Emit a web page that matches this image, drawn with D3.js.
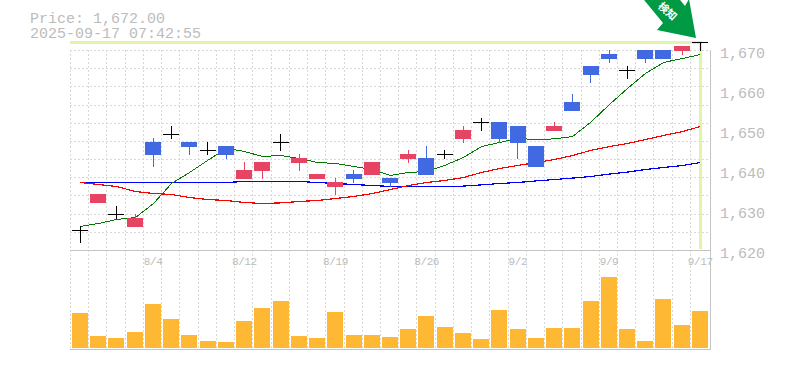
<!DOCTYPE html>
<html>
<head>
<meta charset="utf-8">
<script src="https://cdn.jsdelivr.net/npm/d3@7"></script>
<style>
    body { margin: 0; background: #fff; }
    svg { display: block; }
    text { font-family: "Liberation Mono", monospace; fill: #bcbcbc; }
    .axis path, .axis line { display: none; }
</style>
</head>
<body>
<div id="chart-area"></div>
<script>
/* Price chart with candles, moving averages and volume */

var dates = ["7/29", "7/30", "7/31", "8/1", "8/4", "8/5", "8/6", "8/7", "8/8", "8/12",
    "8/13", "8/14", "8/15", "8/18", "8/19", "8/20", "8/21", "8/22", "8/25", "8/26",
    "8/27", "8/28", "8/29", "9/1", "9/2", "9/3", "9/4", "9/5", "9/8", "9/9",
    "9/10", "9/11", "9/12", "9/16", "9/17"];
var dateLabels = ["8/4", "8/12", "8/19", "8/26", "9/2", "9/9", "9/17"];
var priceLabels = [1620, 1630, 1640, 1650, 1660, 1670];

var open = [1625, 1634, 1629, 1628, 1644, 1649, 1646, 1645, 1644, 1640,
    1642, 1647, 1643, 1639, 1637, 1638, 1642, 1637, 1644, 1639,
    1644, 1650, 1652, 1648, 1647, 1641, 1651, 1655, 1664, 1668,
    1665, 1668, 1668, 1671, 1672];
var close = [1625, 1632, 1629, 1626, 1647, 1649, 1647, 1645, 1646, 1638,
    1640, 1647, 1642, 1638, 1636, 1639, 1639, 1638, 1643, 1643,
    1644, 1648, 1652, 1652, 1651, 1646, 1650, 1657, 1666, 1669,
    1665, 1670, 1670, 1670, 1672];
var high = [1626, 1634, 1631, 1629, 1648, 1651, 1647, 1647, 1646, 1642,
    1642, 1649, 1644, 1639, 1638, 1640, 1642, 1638, 1645, 1646,
    1645, 1651, 1653, 1652, 1651, 1646, 1652, 1659, 1666, 1670,
    1666, 1670, 1670, 1671, 1672];
var low = [1622, 1632, 1628, 1626, 1641, 1648, 1644, 1644, 1643, 1638,
    1638, 1645, 1640, 1638, 1634, 1637, 1639, 1636, 1642, 1639,
    1643, 1647, 1650, 1647, 1643, 1641, 1650, 1655, 1662, 1667,
    1663, 1667, 1668, 1669, 1670];

var maShort = [1626, 1626.75, 1627.75, 1628.25, 1631.75, 1636.75, 1639.5, 1642.5, 1645.5, 1644.75,
    1643.5, 1643.75, 1643, 1642, 1641.75, 1641, 1640.25, 1638.75, 1639.5, 1639.75,
    1641.25, 1643.25, 1646, 1647, 1648, 1647.75, 1647.9, 1648.5, 1652, 1656.5,
    1660.5, 1664.25, 1667, 1668, 1669];
var maMiddle = [1637, 1636.5, 1636, 1634.75, 1634.25, 1634, 1633.25, 1632.75, 1632.5, 1632,
    1631.75, 1631.9, 1632.25, 1632.5, 1633, 1633.5, 1634.25, 1635.25, 1636.25, 1637,
    1637.5, 1638.25, 1639.5, 1640.5, 1641.25, 1642, 1642.75, 1643.75, 1645, 1646,
    1646.75, 1647.75, 1648.75, 1649.75, 1651];
var maLong = [1637, 1637, 1637, 1637, 1637, 1637, 1637, 1637, 1637, 1637.25,
    1637.25, 1637.25, 1637.25, 1637, 1636.75, 1636.5, 1636.25, 1636, 1636, 1636,
    1636, 1636.1, 1636.4, 1636.75, 1637, 1637.4, 1637.75, 1638.1, 1638.5, 1639.1,
    1639.6, 1640.25, 1640.75, 1641.25, 1642];

var volume = [3500, 1200, 1000, 1600, 4400, 2900, 1300, 700, 600, 2700,
    4000, 4700, 1200, 1000, 3600, 1300, 1300, 1100, 1900, 3200,
    2100, 1500, 900, 3800, 1900, 1000, 2000, 2000, 4700, 7100,
    1900, 700, 4900, 2300, 3700];

var priceText = "Price: 1,672.00";
var timeText = "2025-09-17 07:42:55";
var lastPrice = 1672;

var gridColor = "#d8d8d8";
var frameColor = "#c4c4c4";
var flagColor = "#e2f5a6";
var upColor = "#4169e1";
var downColor = "#e64462";

var svg = d3.select("#chart-area")
    .append("svg")
    .attr("width", 785)
    .attr("height", 370);

var x = d3.scaleBand()
    .domain(d3.range(dates.length))
    .range([70, 708.2]);

var y = d3.scaleLinear()
    .domain([1620, 1670])
    .range([250, 50]);

var yVolume = d3.scaleLinear()
    .domain([0, d3.max(volume)])
    .range([348, 277]);

var xDate = d3.scaleBand()
    .domain(dates)
    .range([70, 708.2]);

function center(i) {
    return Math.floor(x(i) + 10.3);
}

function barLeft(i) {
    return Math.round(x(i) + 2);
}

// grid
var grid = svg.append("g")
    .attr("shape-rendering", "crispEdges")
    .attr("stroke", gridColor)
    .attr("stroke-dasharray", "2,2");

d3.range(12).forEach(function(k) {
    grid.append("line")
        .attr("x1", 70).attr("x2", 710)
        .attr("y1", Math.round(50 + k * 200 / 11) + 0.5)
        .attr("y2", Math.round(50 + k * 200 / 11) + 0.5);
});

d3.range(35).forEach(function(i) {
    grid.append("line")
        .attr("x1", Math.round(x(i)) + 0.5).attr("x2", Math.round(x(i)) + 0.5)
        .attr("y1", 50).attr("y2", 350);
});

// current price markers
svg.append("rect")
    .attr("x", 70).attr("y", y(lastPrice) - 1)
    .attr("width", center(34) - 70 + 2).attr("height", 3)
    .attr("fill", flagColor);
svg.append("rect")
    .attr("x", center(34) - 1).attr("y", y(lastPrice))
    .attr("width", 3).attr("height", y(1620) - y(lastPrice) - 1)
    .attr("fill", flagColor);

// frame
var frame = svg.append("g")
    .attr("shape-rendering", "crispEdges")
    .attr("stroke", frameColor);
frame.append("line").attr("x1", 70).attr("x2", 711).attr("y1", 250.5).attr("y2", 250.5);
frame.append("line").attr("x1", 70).attr("x2", 711).attr("y1", 349.5).attr("y2", 349.5);
frame.append("line").attr("x1", 710.5).attr("x2", 710.5).attr("y1", 50).attr("y2", 350);

// volume
svg.append("g")
    .attr("shape-rendering", "crispEdges")
    .selectAll("rect")
    .data(volume)
    .enter()
    .append("rect")
    .attr("x", function(d, i) { return barLeft(i); })
    .attr("y", function(d) { return yVolume(d); })
    .attr("width", 16)
    .attr("height", function(d) { return yVolume(0) - yVolume(d); })
    .attr("fill", "#ffb833");

// moving averages
var line = d3.line()
    .x(function(d, i) { return center(i) + 0.5; })
    .y(function(d) { return y(d) + 0.5; });

[[maLong, "#0000ff", 1.2], [maMiddle, "#ff0000", 1.2], [maShort, "#007a00", 1]].forEach(function(s) {
    svg.append("path")
        .attr("d", line(s[0]))
        .attr("fill", "none")
        .attr("stroke", s[1])
        .attr("stroke-width", s[2])
        .attr("shape-rendering", "crispEdges");
});

// candles
var candles = svg.append("g").attr("shape-rendering", "crispEdges");

dates.forEach(function(d, i) {
    var left = barLeft(i);
    var doji = open[i] === close[i];
    var color = doji ? "#000" : (close[i] > open[i] ? upColor : downColor);

    candles.append("rect")
        .attr("x", center(i)).attr("y", y(high[i]))
        .attr("width", 1).attr("height", y(low[i]) - y(high[i]) + 1)
        .attr("fill", color);

    candles.append("rect")
        .attr("x", left).attr("y", y(Math.max(open[i], close[i])))
        .attr("width", 16)
        .attr("height", doji ? 1 : y(Math.min(open[i], close[i])) - y(Math.max(open[i], close[i])) + 1)
        .attr("fill", color);
});

// axes
var yAxisCall = d3.axisRight(y)
    .tickValues(priceLabels)
    .tickSize(0)
    .tickPadding(0)
    .tickFormat(d3.format(","));
svg.append("g")
    .attr("class", "axis")
    .attr("transform", "translate(720,3)")
    .call(yAxisCall)
    .selectAll("text")
    .attr("font-size", "15px")
    .style("font-family", "Liberation Mono");

var xAxisCall = d3.axisBottom(xDate)
    .tickValues(dateLabels)
    .tickSize(0)
    .tickPadding(0);
svg.append("g")
    .attr("class", "axis")
    .attr("transform", "translate(0,257)")
    .call(xAxisCall)
    .selectAll("text")
    .attr("font-size", "11px")
    .attr("dx", "0.1em")
    .attr("dy", "0.71em")
    .style("letter-spacing", "-0.4px")
    .style("font-family", "Liberation Mono");

// title
svg.append("text").attr("x", 30).attr("y", 23).attr("font-size", "15px").text(priceText);
svg.append("text").attr("x", 30).attr("y", 38).attr("font-size", "15px").text(timeText);

// arrow pointing at the last price
var tip = svg.append("g")
    .attr("transform", "translate(" + (center(34) - 4) + "," + (y(lastPrice) - 4) + ")");
tip.append("polygon")
    .attr("points", "-56,-43 -33,-15 -39,-8 0,0 -7,-39 -11,-32 -20,-43")
    .attr("fill", "#009944");
tip.append("text")
    .attr("transform", "translate(-29,-26) rotate(42)")
    .attr("text-anchor", "middle")
    .attr("dominant-baseline", "middle")
    .attr("font-size", "10.5px")
    .attr("font-weight", "bold")
    .style("font-family", "Noto Sans CJK JP")
    .style("fill", "#fff")
    .text("検知");
</script>
</body>
</html>
